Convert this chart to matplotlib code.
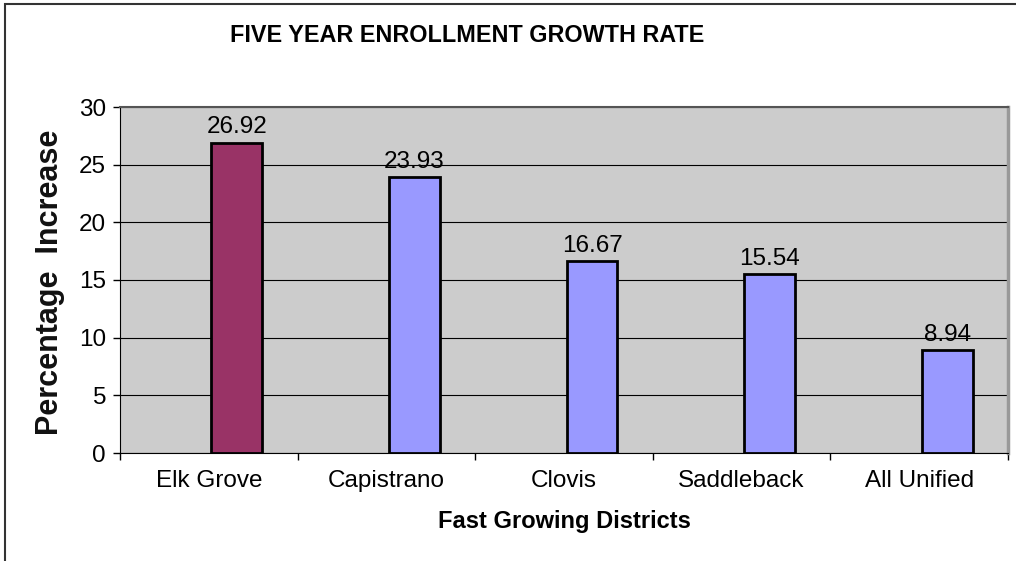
import matplotlib
matplotlib.use('Agg')
import matplotlib.pyplot as plt
from matplotlib.patches import Rectangle

districts = ['Elk Grove', 'Capistrano', 'Clovis', 'Saddleback', 'All Unified']
growth = [26.92, 23.93, 16.67, 15.54, 8.94]
bar_colors = ['#993366', '#9999FF', '#9999FF', '#9999FF', '#9999FF']
yticks = [0, 5, 10, 15, 20, 25, 30]

plt.rcParams['font.family'] = ['Liberation Sans', 'DejaVu Sans']

fig = plt.figure(figsize=(10.16, 5.61), dpi=100)
ax = fig.add_axes([120 / 1016, 1 - 453 / 561, 888 / 1016, 346 / 561])
ax.set_facecolor('#CCCCCC')

# outer chart border (left and top edges visible)
fig.add_artist(Rectangle((5 / 1016, -0.05), 1.2, 1 - 4 / 561 + 0.05,
                         transform=fig.transFigure, fill=False,
                         edgecolor='#333333', linewidth=1.5))

x = list(range(len(districts)))
w = 0.2857
bars = ax.bar([i + 0.015 for i in x], growth, width=w, align='edge',
              color=bar_colors, edgecolor='black', linewidth=2, zorder=3)
for b, v in zip(bars, growth):
    ax.annotate(f'{v:.2f}', (b.get_x() + b.get_width() / 2, v),
                xytext=(0, 3), textcoords='offset points',
                ha='center', va='bottom', fontsize=17.5)

ax.set_xlim(-0.5, 4.5)
ax.set_ylim(0, 30)
ax.set_yticks(yticks)
ax.set_xticks(x)
ax.set_xticklabels(districts)
ax.set_xticks([i - 0.5 for i in range(len(districts) + 1)], minor=True)
ax.tick_params(axis='x', which='major', length=0, pad=12, labelsize=17.5)
ax.tick_params(axis='x', which='minor', length=5, width=1, color='black')
ax.tick_params(axis='y', length=5, width=1, pad=5, labelsize=17.5)

ax.grid(axis='y', color='black', linewidth=0.8, zorder=1)
ax.set_axisbelow(True)

ax.spines['left'].set_color('black')
ax.spines['bottom'].set_color('black')
ax.spines['top'].set_color('#555555')
ax.spines['top'].set_linewidth(1.5)
ax.spines['right'].set_color('#999999')
ax.spines['right'].set_linewidth(2.5)

ax.set_xlabel('Fast Growing Districts', fontsize=17, fontweight='bold', labelpad=13)

fig.text(50 / 1016, 1 - 282 / 561, 'Percentage  Increase', rotation=90,
         ha='center', va='center', fontsize=22, fontweight='bold',
         color='#111111')

fig.text(467 / 1016, 1 - 35 / 561, 'FIVE YEAR ENROLLMENT GROWTH RATE',
         ha='center', va='center', fontsize=16.8, fontweight='bold')

fig.savefig('out.png', dpi=100)
